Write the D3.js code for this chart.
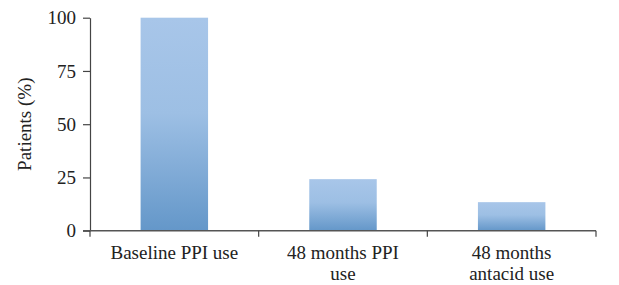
<!DOCTYPE html>
<html>
<head>
<meta charset="utf-8">
<script src="https://cdn.jsdelivr.net/npm/d3@7"></script>
<style>
  body { margin: 0; background: #fff; }
  text { font-family: "Liberation Serif", "DejaVu Serif", serif; fill: #222; }
</style>
</head>
<body>
<svg id="chart" width="619" height="285"></svg>
<script>
// data
const categories = ["Baseline PPI use", "48 months PPI use", "48 months antacid use"];
const labelLines = [["Baseline PPI use"], ["48 months PPI", "use"], ["48 months", "antacid use"]];
const patients = [100, 24.2, 13.4];
const yTicks = [0, 25, 50, 75, 100];

const plotLeft = 90, plotRight = 596, plotTop = 17.7, plotBottom = 230.7;
const fontSize = "19px";

const svg = d3.select("#chart");

// gradient like the original bars
const grad = svg.append("defs").append("linearGradient")
    .attr("id", "barGrad")
    .attr("x1", 0).attr("y1", 0).attr("x2", 0).attr("y2", 1);
grad.append("stop").attr("offset", "0%").attr("stop-color", "#a8c6e9");
grad.append("stop").attr("offset", "45%").attr("stop-color", "#9dbfe4");
grad.append("stop").attr("offset", "100%").attr("stop-color", "#6497c9");

const x = d3.scaleBand()
    .domain(categories)
    .range([plotLeft, plotRight])
    .paddingInner(0.6)
    .paddingOuter(0.3);

const y = d3.scaleLinear()
    .domain([0, 100])
    .range([plotBottom, plotTop]);

// bars
svg.selectAll("rect.bar")
    .data(categories)
    .enter()
    .append("rect")
    .attr("class", "bar")
    .attr("x", d => x(d))
    .attr("width", x.bandwidth())
    .attr("y", (d, i) => y(patients[i]))
    .attr("height", (d, i) => y(0) - y(patients[i]))
    .style("fill", "url(#barGrad)");

// y axis
const yAxis = svg.append("g")
    .attr("transform", "translate(" + plotLeft + ",0)")
    .call(d3.axisLeft(y).tickValues(yTicks).tickSize(7).tickSizeOuter(0).tickPadding(7));
yAxis.selectAll("text").style("font-size", fontSize).attr("font-family", null);
yAxis.selectAll("line, path").attr("stroke", "#444").attr("stroke-width", 1.2);

// x axis with ticks at category boundaries
const xb = d3.scaleLinear().domain([0, 3]).range([plotLeft, plotRight]);
svg.append("line")
    .attr("x1", plotLeft - 7).attr("x2", plotRight)
    .attr("y1", plotBottom).attr("y2", plotBottom)
    .attr("stroke", "#555").attr("stroke-width", 1.5);
svg.selectAll("line.xt")
    .data([0, 1, 2, 3])
    .enter()
    .append("line")
    .attr("class", "xt")
    .attr("x1", d => xb(d)).attr("x2", d => xb(d))
    .attr("y1", plotBottom).attr("y2", plotBottom + 6)
    .attr("stroke", "#444").attr("stroke-width", 1.2);

// category labels
const labels = svg.selectAll("text.cat")
    .data(categories)
    .enter()
    .append("text")
    .attr("class", "cat")
    .attr("text-anchor", "middle")
    .style("font-size", fontSize);
labels.each(function(d, i) {
    const t = d3.select(this);
    labelLines[i].forEach((ln, j) => {
        t.append("tspan")
            .attr("x", x(d) + x.bandwidth() / 2)
            .attr("y", 259 + j * 21)
            .text(ln);
    });
});

// y axis title
svg.append("text")
    .attr("transform", "translate(31," + ((plotTop + plotBottom) / 2) + ") rotate(-90)")
    .attr("text-anchor", "middle")
    .style("font-size", fontSize)
    .text("Patients (%)");
</script>
</body>
</html>
